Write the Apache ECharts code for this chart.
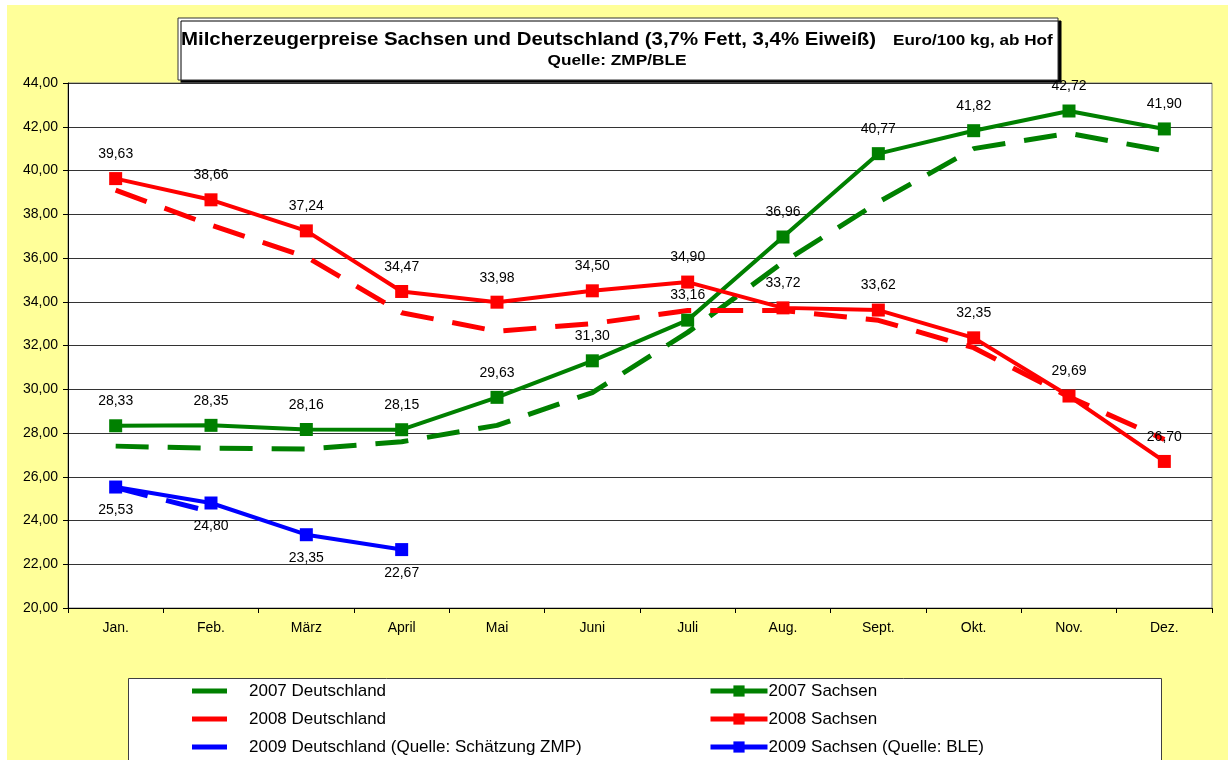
<!DOCTYPE html>
<html>
<head>
<meta charset="utf-8">
<script src="https://cdn.jsdelivr.net/npm/echarts@6/dist/echarts.min.js"></script>
<style>
  html, body { margin: 0; padding: 0; background: #fff; }
  #main { width: 1228px; height: 760px; }
</style>
</head>
<body>
<div id="main"></div>
<script>
// Monate
var months = ['Jan.', 'Feb.', 'März', 'April', 'Mai', 'Juni', 'Juli', 'Aug.', 'Sept.', 'Okt.', 'Nov.', 'Dez.'];

// Sachsen (BLE)
var sachsen2007 = [28.33, 28.35, 28.16, 28.15, 29.63, 31.30, 33.16, 36.96, 40.77, 41.82, 42.72, 41.90];
var sachsen2008 = [39.63, 38.66, 37.24, 34.47, 33.98, 34.50, 34.90, 33.72, 33.62, 32.35, 29.69, 26.70];
var sachsen2009 = [25.53, 24.80, 23.35, 22.67];

// Deutschland (ZMP)
var deutschland2007 = [27.40, 27.30, 27.27, 27.60, 28.35, 29.85, 32.60, 35.80, 38.55, 41.00, 41.70, 40.90];
var deutschland2008 = [39.10, 37.50, 36.05, 33.50, 32.65, 33.00, 33.60, 33.60, 33.15, 31.90, 29.65, 27.70];
var deutschland2009 = [25.50, 24.40];

// y-Achse
var yMin = 20, yMax = 44, yStep = 2;

var FONT = 'Liberation Sans, Arial, sans-serif';

function komma(v) {
    return v.toFixed(2).replace('.', ',');
}

function dashed(name, color, data) {
    return {
        name: name,
        type: 'line',
        data: data,
        symbol: 'none',
        silent: true,
        z: 2,
        lineStyle: { color: color, width: 5, type: [33, 19] },
        itemStyle: { color: color }
    };
}

function solid(name, color, data, pos, dist) {
    return {
        name: name,
        type: 'line',
        data: data,
        symbol: 'rect',
        symbolSize: 13,
        z: 3,
        lineStyle: { color: color, width: 4 },
        itemStyle: { color: color },
        label: {
            show: true,
            position: pos,
            distance: dist,
            fontFamily: FONT,
            fontSize: 14,
            color: '#000',
            formatter: function (p) { return komma(p.value); }
        }
    };
}

var myChart = echarts.init(document.getElementById('main'));

var option = {
    backgroundColor: '#FFFF99',
    animation: false,
    graphic: [
        { type: 'rect', z: -10, silent: true, shape: { x: 0, y: 0, width: 1228, height: 5 }, style: { fill: '#fff' } },
        { type: 'rect', z: -10, silent: true, shape: { x: 0, y: 0, width: 7, height: 760 }, style: { fill: '#fff' } },
        {
            type: 'rect', z: -5, silent: true,
            shape: { x: 178, y: 18, width: 880, height: 62 },
            style: { fill: '#fff', stroke: '#333', lineWidth: 1, shadowColor: '#000', shadowOffsetX: 3, shadowOffsetY: 3, shadowBlur: 0 }
        },
        {
            type: 'rect', z: -5, silent: true,
            shape: { x: 128.5, y: 678.5, width: 1033, height: 100 },
            style: { fill: '#fff', stroke: '#404040', lineWidth: 1 }
        },
        // Titel
        {
            type: 'text', z: 10, x: 181, y: 40, scaleX: 1.074,
            style: {
                text: 'Milcherzeugerpreise Sachsen und Deutschland (3,7% Fett, 3,4% Eiweiß)',
                font: 'bold 19px ' + FONT, fill: '#000', textVerticalAlign: 'middle'
            }
        },
        {
            type: 'text', z: 10, x: 893, y: 41, scaleX: 1.14,
            style: {
                text: 'Euro/100 kg, ab Hof',
                font: 'bold 15px ' + FONT, fill: '#000', textVerticalAlign: 'middle'
            }
        },
        {
            type: 'text', z: 10, x: 617, y: 61, scaleX: 1.15,
            style: {
                text: 'Quelle: ZMP/BLE',
                font: 'bold 15px ' + FONT, fill: '#000', textAlign: 'center', textVerticalAlign: 'middle'
            }
        }
    ],
    legend: [
        {
            orient: 'vertical',
            left: 192, top: 682, padding: 0,
            itemGap: 10,
            itemWidth: 35, itemHeight: 5,
            icon: 'rect',
            textStyle: { fontFamily: FONT, fontSize: 17, color: '#000', lineHeight: 18, padding: [0, 0, 0, 17] },
            data: ['2007 Deutschland', '2008 Deutschland', '2009 Deutschland (Quelle: Schätzung ZMP)']
        },
        {
            orient: 'vertical',
            left: 708, top: 682, padding: 0,
            itemGap: 10,
            itemWidth: 57, itemHeight: 14,
            lineStyle: { width: 5 },
            textStyle: { fontFamily: FONT, fontSize: 17, color: '#000', lineHeight: 18, padding: [0, 0, 0, -4] },
            data: ['2007 Sachsen', '2008 Sachsen', '2009 Sachsen (Quelle: BLE)']
        }
    ],
    grid: {
        left: 68, right: 16, top: 83, bottom: 152,
        show: true,
        backgroundColor: '#fff',
        borderColor: '#808080',
        borderWidth: 1
    },
    xAxis: {
        type: 'category',
        data: months,
        boundaryGap: true,
        axisLine: { lineStyle: { color: '#000', width: 1 } },
        axisTick: { show: true, length: 5, lineStyle: { color: '#000' } },
        axisLabel: { fontFamily: FONT, fontSize: 14, color: '#000', margin: 13 },
        splitLine: { show: false }
    },
    yAxis: {
        type: 'value',
        min: yMin, max: yMax, interval: yStep,
        axisLine: { show: true, lineStyle: { color: '#000', width: 1 } },
        axisTick: { show: true, length: 5, lineStyle: { color: '#000' } },
        axisLabel: { fontFamily: FONT, fontSize: 14, color: '#000', margin: 10, formatter: function (v) { return komma(v); } },
        splitLine: { show: true, lineStyle: { color: '#333', width: 1 } }
    },
    series: [
        dashed('2007 Deutschland', '#008000', deutschland2007),
        dashed('2008 Deutschland', '#FF0000', deutschland2008),
        dashed('2009 Deutschland (Quelle: Schätzung ZMP)', '#0000FF', deutschland2009),
        solid('2007 Sachsen', '#008000', sachsen2007, 'top', 11),
        solid('2008 Sachsen', '#FF0000', sachsen2008, 'top', 11),
        solid('2009 Sachsen (Quelle: BLE)', '#0000FF', sachsen2009, 'bottom', 10)
    ]
};

myChart.setOption(option);
</script>
</body>
</html>
